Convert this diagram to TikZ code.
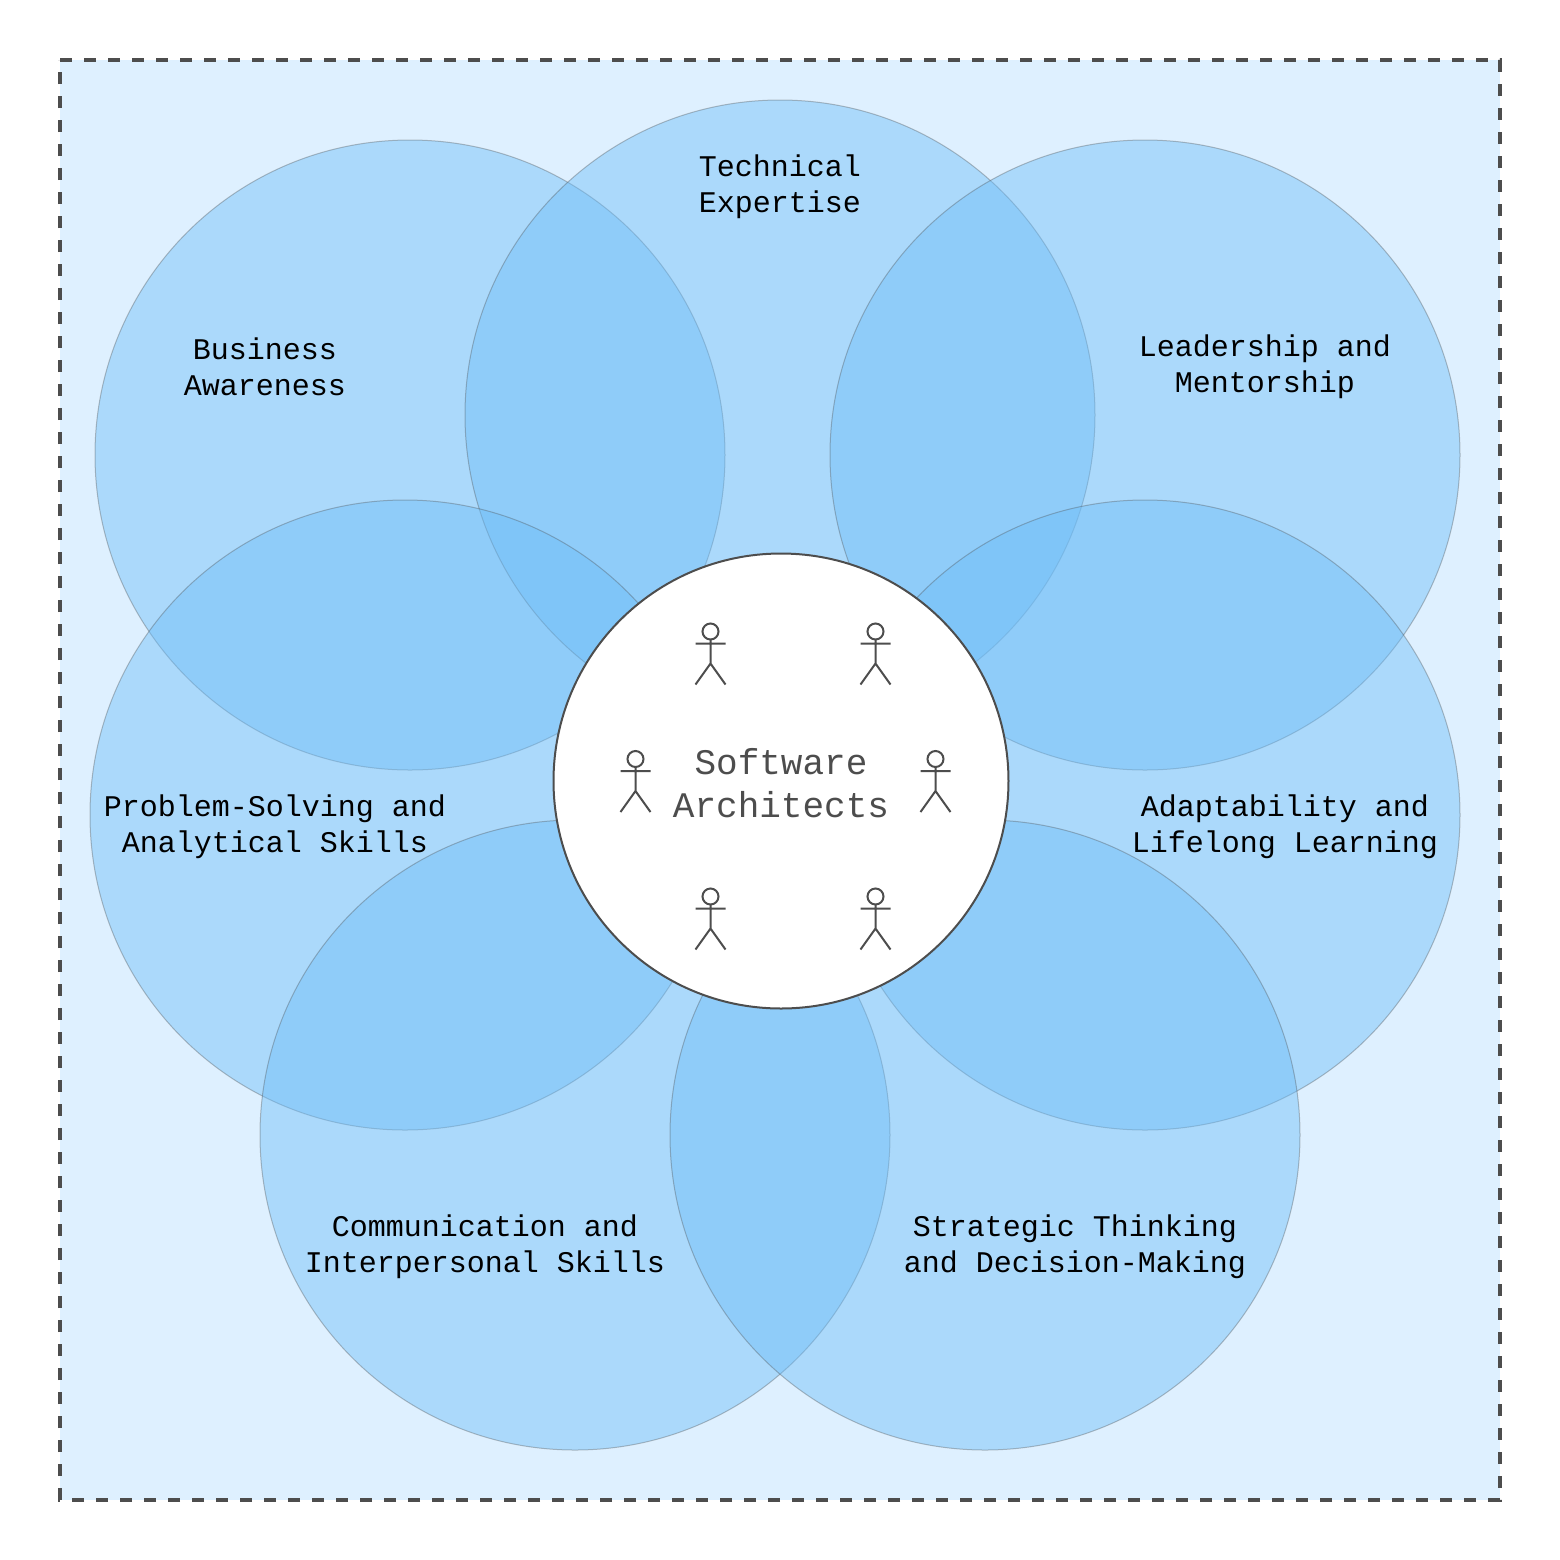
\documentclass[tikz,border=0pt]{standalone}
\usepackage{fontspec}
\setmainfont{Liberation Mono}
\definecolor{framefill}{HTML}{DEF0FF}
\definecolor{petalfill}{HTML}{6DBDF8}
\definecolor{inkgray}{HTML}{4D4D4D}
\tikzset{
  petal/.style={fill=petalfill,fill opacity=0.45,draw=inkgray,draw opacity=0.35,line width=0.5pt},
  petaltext/.style={align=center,text=black,font=\fontsize{15pt}{18pt}\selectfont,inner sep=0pt},
  coretext/.style={align=center,text=inkgray,font=\fontsize{18pt}{21.5pt}\selectfont,inner sep=0pt},
  actorline/.style={draw=inkgray,line width=1pt,fill=none},
  pics/actor/.style={code={
    \draw[actorline] (0,0) circle[radius=4pt];
    \draw[actorline] (0,8) -- (0,32) (-15,12) -- (15,12) (-15,53) -- (0,32) -- (15,53);
  }}
}
\begin{document}
\begin{tikzpicture}[x=0.5pt,y=-0.5pt]
\useasboundingbox (0,0) rectangle (1560,1560);
\fill[white] (0,0) rectangle (1560,1560);
\draw[fill=framefill,draw=inkgray,line width=2pt,dash pattern=on 6pt off 6pt]
  (60,60) -- (1500,60) -- (1500,1500) -- (60,1500) -- cycle;
\path[petal] (410,455) circle[radius=157.5pt];
\path[petal] (780,415) circle[radius=157.5pt];
\path[petal] (1145,455) circle[radius=157.5pt];
\path[petal] (405,815) circle[radius=157.5pt];
\path[petal] (1145,815) circle[radius=157.5pt];
\path[petal] (575,1135) circle[radius=157.5pt];
\path[petal] (985,1135) circle[radius=157.5pt];
\draw[fill=white,draw=inkgray,line width=1pt] (781,781) circle[radius=113.75pt];
\node[petaltext] (technical) at (780,187) {Technical\\Expertise};
\node[petaltext] (business) at (265,367) {Business\\Awareness};
\node[petaltext] (leadership) at (1265,367) {Leadership and\\Mentorship};
\node[petaltext] (problem) at (275,827) {Problem-Solving and\\Analytical Skills};
\node[petaltext] (adapt) at (1285,827) {Adaptability and\\Lifelong Learning};
\node[petaltext] (comm) at (485,1247) {Communication and\\Interpersonal Skills};
\node[petaltext] (strategic) at (1075,1247) {Strategic Thinking\\and Decision-Making};
\node[coretext] (core) at (781,783) {Software\\Architects};
\pic at (710.5,631.5) {actor};
\pic at (875.5,631.5) {actor};
\pic at (635.5,759) {actor};
\pic at (935.5,759) {actor};
\pic at (710.5,896.5) {actor};
\pic at (875.5,896.5) {actor};
\end{tikzpicture}
\end{document}
